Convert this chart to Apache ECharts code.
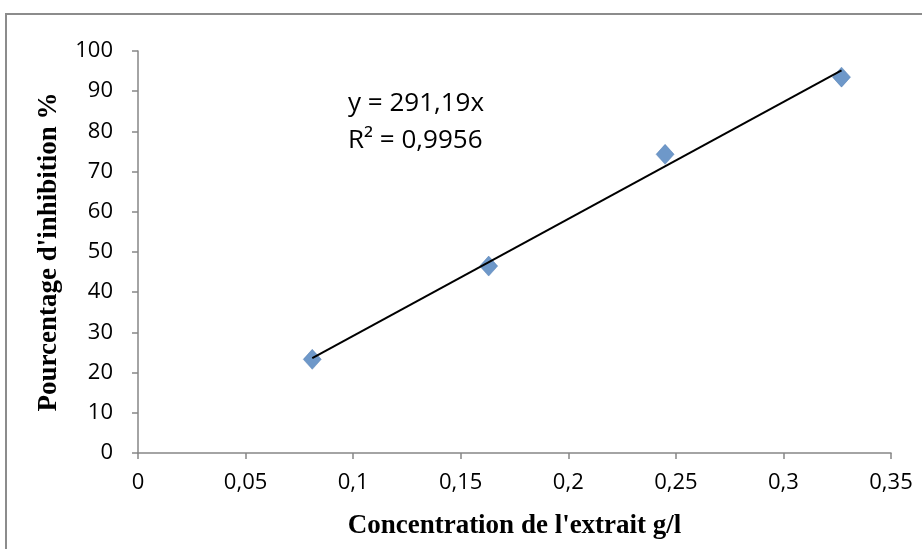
<!DOCTYPE html>
<html>
<head>
<meta charset="utf-8">
<script src="https://cdn.jsdelivr.net/npm/echarts@6/dist/echarts.min.js"></script>
<style>
  html, body { margin: 0; padding: 0; background: #fff; }
  #chart { width: 922px; height: 549px; }
</style>
</head>
<body>
<div id="chart"></div>
<script>
// concentration g/l and inhibition %
const concentrations = [0.081, 0.163, 0.245, 0.327]
const inhibition = [23.3, 46.5, 74.3, 93.5]
// linear trendline ends
const trendX = [0.081, 0.327]
const trendY = [23.6, 95.2]
const equationLines = ['y = 291,19x', 'R² = 0,9956']

const chart = echarts.init(document.getElementById('chart'))
const tickFont = { fontFamily: 'Open Sans', fontSize: 22, color: '#000' }
const titleFont = { fontFamily: 'Liberation Serif', fontWeight: 'bold', fontSize: 27, color: '#000' }
const axisGray = '#868686'

chart.setOption({
  animation: false,
  grid: { left: 138, right: 31, top: 51, bottom: 96 },
  graphic: [
    {
      type: 'rect',
      shape: { x: 6, y: 14, width: 1000, height: 1000 },
      style: { fill: 'none', stroke: '#8c8c8c', lineWidth: 2 }
    },
    {
      type: 'text',
      left: 348,
      top: 85,
      style: {
        text: equationLines.join('\n'),
        font: '26px "Open Sans"',
        lineHeight: 37,
        fill: '#000'
      }
    }
  ],
  xAxis: {
    type: 'value',
    min: 0,
    max: 0.35,
    interval: 0.05,
    name: "Concentration de l'extrait g/l",
    nameLocation: 'middle',
    nameGap: 60,
    nameTextStyle: titleFont,
    axisLine: { lineStyle: { color: axisGray, width: 1.5 } },
    axisTick: { show: true, length: 6, lineStyle: { color: axisGray, width: 1.5 } },
    axisLabel: Object.assign({ margin: 19, formatter: v => String(+v.toFixed(2)).replace('.', ',') }, tickFont),
    splitLine: { show: false }
  },
  yAxis: {
    type: 'value',
    min: 0,
    max: 100,
    interval: 10,
    name: "Pourcentage d'inhibition %",
    nameLocation: 'middle',
    nameGap: 75,
    nameTextStyle: titleFont,
    axisLine: { show: true, lineStyle: { color: axisGray, width: 1.5 } },
    axisTick: { show: true, length: 6, lineStyle: { color: axisGray, width: 1.5 } },
    axisLabel: Object.assign({ margin: 25 }, tickFont),
    splitLine: { show: false }
  },
  series: [
    {
      type: 'line',
      data: trendX.map((x, i) => [x, trendY[i]]),
      showSymbol: false,
      lineStyle: { color: '#000', width: 2 },
      z: 3
    },
    {
      type: 'scatter',
      data: concentrations.map((x, i) => [x, inhibition[i]]),
      symbol: 'diamond',
      symbolSize: [18, 20],
      itemStyle: { color: '#4a7ebb', borderColor: '#3f6fa8', borderWidth: 0.5 },
      z: 2
    }
  ]
})
</script>
</body>
</html>
